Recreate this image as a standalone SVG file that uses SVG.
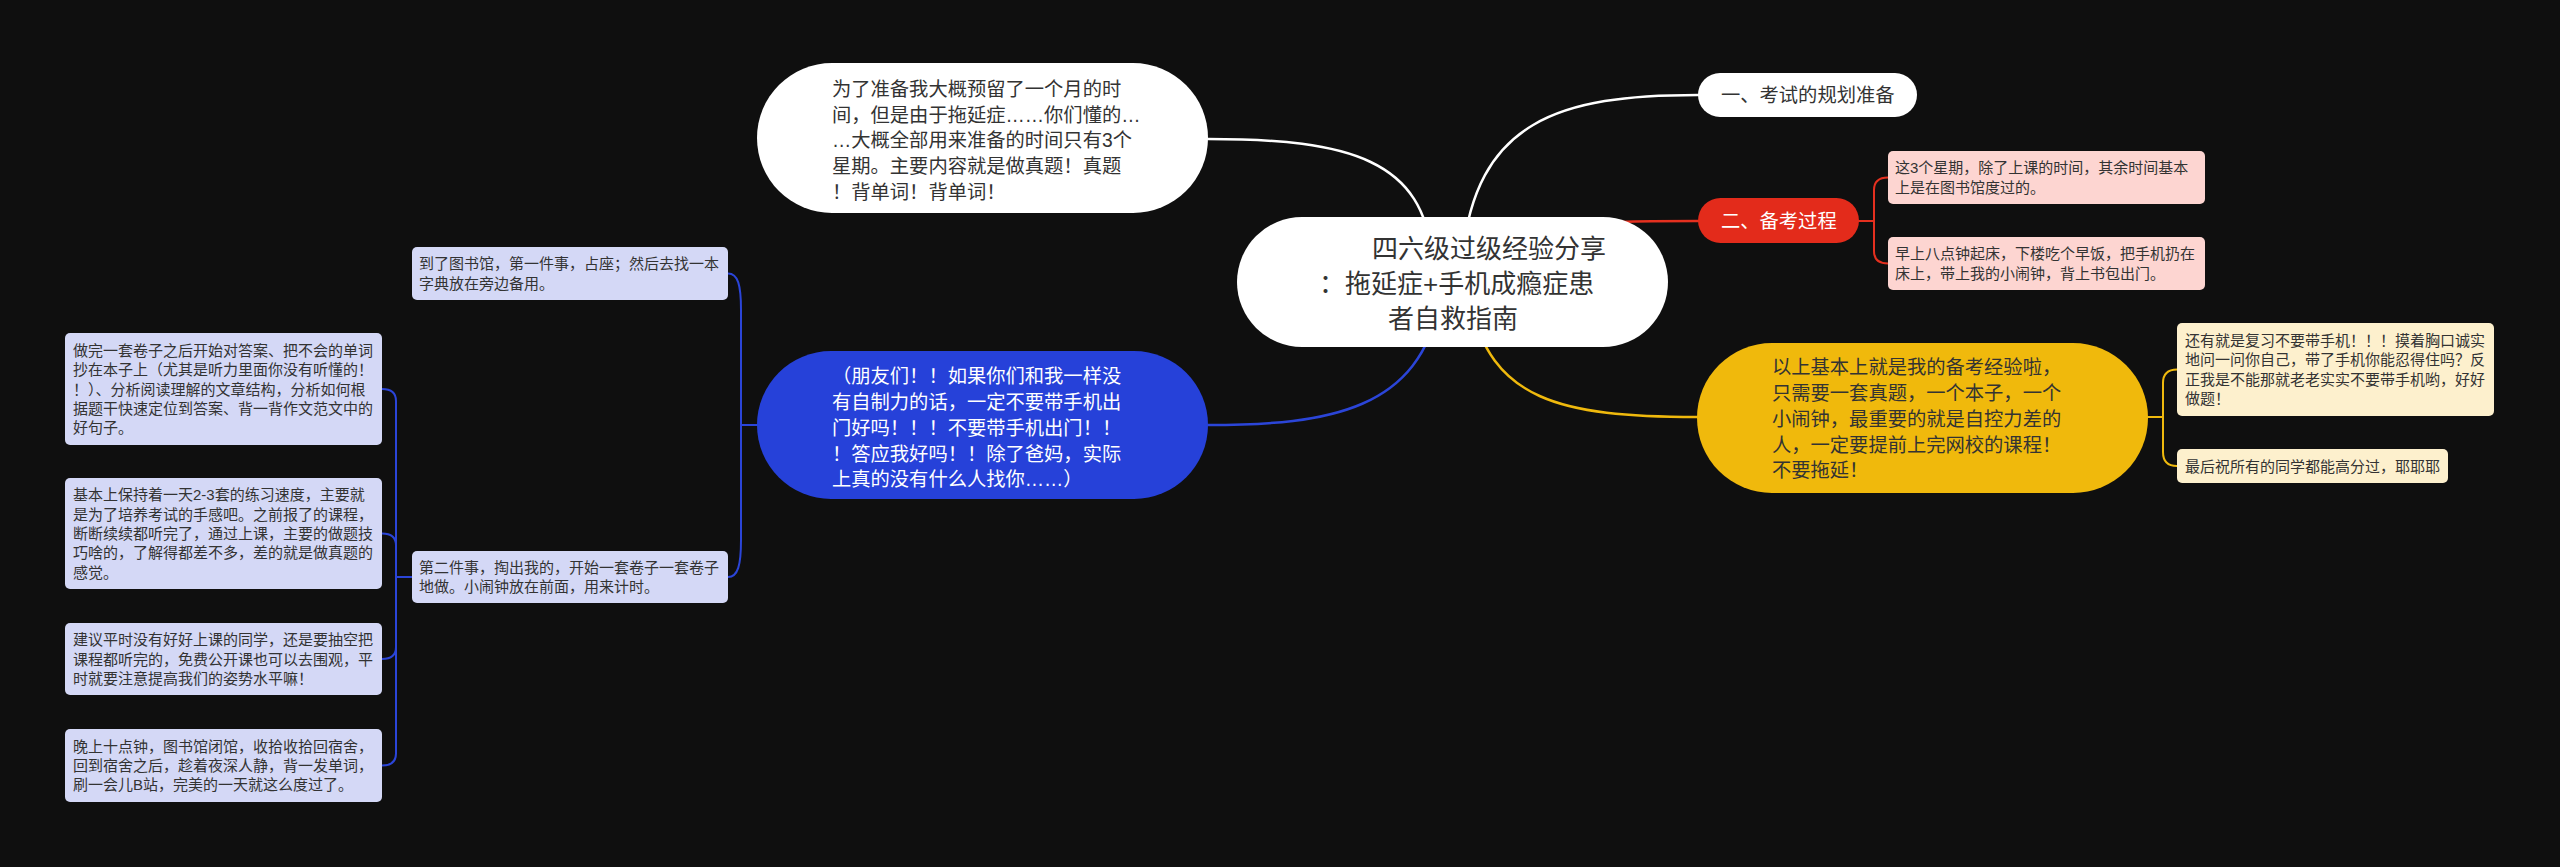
<svg xmlns="http://www.w3.org/2000/svg" width="2560" height="867" viewBox="0 0 2560 867">
<style>
text{font-family:"Liberation Sans","Noto Sans CJK SC",sans-serif;}
.big{font-size:19.3px;fill:#333;}
.bigw{font-size:19.3px;fill:#fff;}
.sm{font-size:15px;fill:#333;}
.title{font-size:26px;fill:#333;}
.lav{fill:#d4d8f6;}
.pink{fill:#fdd5d1;}
.cream{fill:#fdf0cd;}
.c{fill:none;stroke-linecap:round;}
.cw{stroke:#fff;stroke-width:2.5;}
.cr{stroke:#e5301f;stroke-width:2.5;}
.cy{stroke:#efb90d;stroke-width:2.5;}
.cb{stroke:#2b45d8;stroke-width:2.5;}
.cr2{stroke:#e5301f;stroke-width:2;}
.cy2{stroke:#efb90d;stroke-width:2;}
.cb2{stroke:#2b45d8;stroke-width:2;}
</style>
<rect x="0" y="0" width="2560" height="867" fill="#0f0f0f"/>
<g id="connectors">
<path class="c cw" d="M1208,139 C1350,139 1425,160 1432,260"/>
<path class="c cw" d="M1462,260 C1475,120 1560,95 1698,95"/>
<path class="c cr" d="M1480,250 C1560,221 1600,221 1698,221"/>
<path class="c cy" d="M1470,300 C1490,400 1560,417 1697,417"/>
<path class="c cb" d="M1440,300 C1420,410 1330,425 1208,425"/>
<path class="c cr2" d="M1859,221 H1874 V190 Q1874,177.5 1888,177.5"/>
<path class="c cr2" d="M1859,221 H1874 V251 Q1874,263.5 1888,263.5"/>
<path class="c cy2" d="M2148,417 H2163 V383 Q2163,369.5 2177,369.5"/>
<path class="c cy2" d="M2148,417 H2163 V452 Q2163,466 2177,466"/>
<path class="c cb2" d="M757,425 H741 V310 C741,285 738,273.5 728,273.5"/>
<path class="c cb2" d="M757,425 H741 V540 C741,565 738,577 728,577"/>
<path class="c cb2" d="M412,577 H396 V401 Q396,389 382,389"/>
<path class="c cb2" d="M412,577 H396 V545.5 Q396,533.5 382,533.5"/>
<path class="c cb2" d="M412,577 H396 V647 Q396,659 382,659"/>
<path class="c cb2" d="M412,577 H396 V753.5 Q396,765.5 382,765.5"/>
</g>
<g id="central">
<rect x="1237" y="217" width="431" height="130" rx="65" fill="#fff"/>
<text class="title" x="1372" y="257.5">四六级过级经验分享</text>
<text class="title" x="1319" y="292.5">：拖延症+手机成瘾症患</text>
<text class="title" x="1388" y="327.5">者自救指南</text>
</g>
<g id="n-prep">
<rect x="757" y="63" width="451" height="150" rx="75" fill="#fff"/>
<text class="big"><tspan x="832" y="96">为了准备我大概预留了一个月的时</tspan><tspan x="832" y="121.6">间，但是由于拖延症……你们懂的…</tspan><tspan x="832" y="147.3">…大概全部用来准备的时间只有3个</tspan><tspan x="832" y="173">星期。主要内容就是做真题！真题</tspan><tspan x="832" y="198.7">！背单词！背单词！</tspan></text>
</g>
<g id="n-friends">
<rect x="757" y="351" width="451" height="148" rx="74" fill="#2641d9"/>
<text class="bigw"><tspan x="832" y="383.4">（朋友们！！如果你们和我一样没</tspan><tspan x="832" y="409.1">有自制力的话，一定不要带手机出</tspan><tspan x="832" y="434.8">门好吗！！！不要带手机出门！！</tspan><tspan x="832" y="460.5">！答应我好吗！！除了爸妈，实际</tspan><tspan x="832" y="486.2">上真的没有什么人找你……）</tspan></text>
</g>
<g id="n-library">
<rect class="lav" x="412" y="247" width="316" height="53" rx="5"/>
<text class="sm"><tspan x="419" y="269.4">到了图书馆，第一件事，占座；然后去找一本</tspan><tspan x="419" y="288.7">字典放在旁边备用。</tspan></text>
</g>
<g id="n-second">
<rect class="lav" x="412" y="551" width="316" height="52" rx="5"/>
<text class="sm"><tspan x="419" y="572.9">第二件事，掏出我的，开始一套卷子一套卷子</tspan><tspan x="419" y="592.2">地做。小闹钟放在前面，用来计时。</tspan></text>
</g>
<g id="n-a">
<rect class="lav" x="65" y="333" width="317" height="112" rx="5"/>
<text class="sm"><tspan x="73" y="356">做完一套卷子之后开始对答案、把不会的单词</tspan><tspan x="73" y="375.2">抄在本子上（尤其是听力里面你没有听懂的！</tspan><tspan x="73" y="394.5">！）、分析阅读理解的文章结构，分析如何根</tspan><tspan x="73" y="413.8">据题干快速定位到答案、背一背作文范文中的</tspan><tspan x="73" y="433.1">好句子。</tspan></text>
</g>
<g id="n-b">
<rect class="lav" x="65" y="478" width="317" height="111" rx="5"/>
<text class="sm"><tspan x="73" y="500.4">基本上保持着一天2-3套的练习速度，主要就</tspan><tspan x="73" y="519.7">是为了培养考试的手感吧。之前报了的课程，</tspan><tspan x="73" y="539">断断续续都听完了，通过上课，主要的做题技</tspan><tspan x="73" y="558.3">巧啥的，了解得都差不多，差的就是做真题的</tspan><tspan x="73" y="577.6">感觉。</tspan></text>
</g>
<g id="n-c">
<rect class="lav" x="65" y="623" width="317" height="72" rx="5"/>
<text class="sm"><tspan x="73" y="645.2">建议平时没有好好上课的同学，还是要抽空把</tspan><tspan x="73" y="664.5">课程都听完的，免费公开课也可以去围观，平</tspan><tspan x="73" y="683.8">时就要注意提高我们的姿势水平嘛！</tspan></text>
</g>
<g id="n-d">
<rect class="lav" x="65" y="729" width="317" height="73" rx="5"/>
<text class="sm"><tspan x="73" y="751.7">晚上十点钟，图书馆闭馆，收拾收拾回宿舍，</tspan><tspan x="73" y="771">回到宿舍之后，趁着夜深人静，背一发单词，</tspan><tspan x="73" y="790.3">刷一会儿B站，完美的一天就这么度过了。</tspan></text>
</g>
<g id="n-plan">
<rect x="1698" y="73" width="219" height="44" rx="22" fill="#fff"/>
<text class="big" x="1721" y="102.3">一、考试的规划准备</text>
</g>
<g id="n-process">
<rect x="1698" y="198" width="161" height="45" rx="22.5" fill="#e32b1b"/>
<text class="bigw" x="1721" y="228.3">二、备考过程</text>
</g>
<g id="n-r1">
<rect class="pink" x="1888" y="151" width="317" height="53" rx="5"/>
<text class="sm"><tspan x="1895" y="173.4">这3个星期，除了上课的时间，其余时间基本</tspan><tspan x="1895" y="192.7">上是在图书馆度过的。</tspan></text>
</g>
<g id="n-r2">
<rect class="pink" x="1888" y="237" width="317" height="53" rx="5"/>
<text class="sm"><tspan x="1895" y="259.4">早上八点钟起床，下楼吃个早饭，把手机扔在</tspan><tspan x="1895" y="278.7">床上，带上我的小闹钟，背上书包出门。</tspan></text>
</g>
<g id="n-summary">
<rect x="1697" y="343" width="451" height="150" rx="75" fill="#f0b90c"/>
<text class="big"><tspan x="1772" y="374.4">以上基本上就是我的备考经验啦，</tspan><tspan x="1772" y="400.1">只需要一套真题，一个本子，一个</tspan><tspan x="1772" y="425.8">小闹钟，最重要的就是自控力差的</tspan><tspan x="1772" y="451.5">人，一定要提前上完网校的课程！</tspan><tspan x="1772" y="477.2">不要拖延！</tspan></text>
</g>
<g id="n-y1">
<rect class="cream" x="2177" y="323" width="317" height="93" rx="5"/>
<text class="sm"><tspan x="2185" y="346">还有就是复习不要带手机！！！摸着胸口诚实</tspan><tspan x="2185" y="365.4">地问一问你自己，带了手机你能忍得住吗？反</tspan><tspan x="2185" y="384.7">正我是不能那就老老实实不要带手机哟，好好</tspan><tspan x="2185" y="404">做题！</tspan></text>
</g>
<g id="n-y2">
<rect class="cream" x="2177" y="449" width="271" height="34" rx="5"/>
<text class="sm" x="2185" y="471.5">最后祝所有的同学都能高分过，耶耶耶</text>
</g>
</svg>
